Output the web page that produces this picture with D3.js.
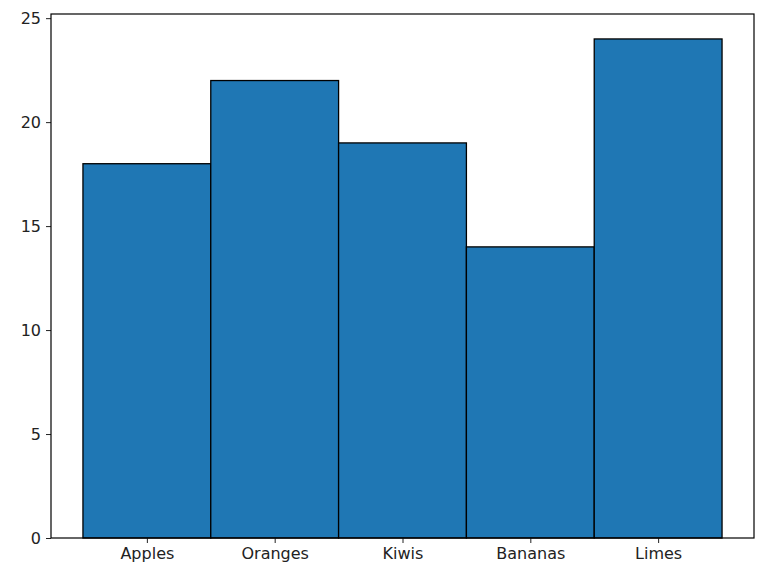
<!DOCTYPE html>
<html><head><meta charset="utf-8">
<script src="https://cdn.jsdelivr.net/npm/d3@7"></script>
<style>body{margin:0;background:#fff}text{font-family:"DejaVu Sans",sans-serif}</style>
</head><body><svg id="c" width="768" height="583"></svg>
<script>
const categories = ["Apples","Oranges","Kiwis","Bananas","Limes"];
const values = [18,22,19,14,24];
const yTicks = [0,5,10,15,20,25];

const L=51,R=754,T=14,B=538;
const svg=d3.select("#c");
const x=d3.scaleLinear().domain([-0.75,categories.length-0.25]).range([L,R]);
const y=d3.scaleLinear().domain([0,d3.max(values)*1.05]).range([B,T]);

svg.selectAll("rect.bar").data(values).join("rect")
  .attr("x",(d,i)=>x(i-0.5)).attr("width",(d,i)=>x(i+0.5)-x(i-0.5))
  .attr("y",d=>y(d)).attr("height",d=>y(0)-y(d))
  .attr("fill","#1f77b4").attr("stroke","#000").attr("stroke-width",1.3);

const ya=svg.append("g").attr("transform",`translate(${L},0)`)
  .call(d3.axisLeft(y).tickValues(yTicks).tickSize(5).tickPadding(5));
const xa=svg.append("g").attr("transform",`translate(0,${B})`)
  .call(d3.axisBottom(x).tickValues(d3.range(categories.length)).tickFormat(i=>categories[i]).tickSize(5).tickPadding(5));
[ya,xa].forEach(g=>{g.select(".domain").remove();g.selectAll("text").attr("font-size",16).attr("fill","#222");g.selectAll("line").attr("stroke","#222");});
svg.append("rect").attr("x",L).attr("y",T).attr("width",R-L).attr("height",B-T).attr("fill","none").attr("stroke","#000").attr("stroke-width",1.2);
</script></body></html>
